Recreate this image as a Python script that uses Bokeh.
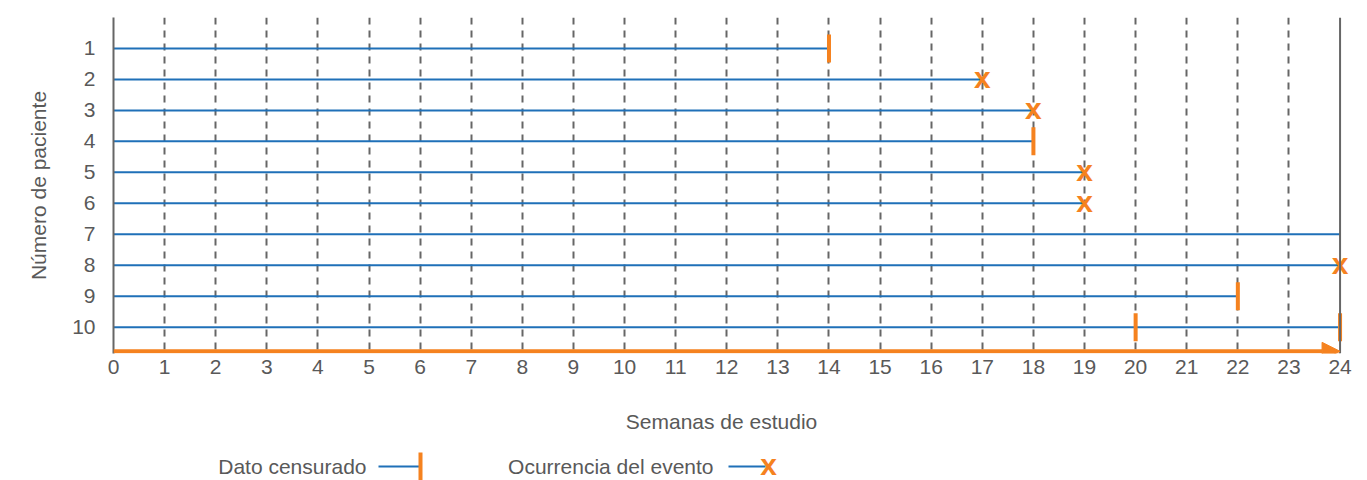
from bokeh.plotting import figure
from bokeh.layouts import column
from bokeh.models import (Range1d, FixedTicker, Span, Arrow, NormalHead, ColumnDataSource)
from bokeh.core.properties import value
from bokeh.embed import file_html
from bokeh.resources import INLINE

# ---- data ----
patients = [1, 2, 3, 4, 5, 6, 7, 8, 9, 10]
end_weeks = [14, 17, 18, 18, 19, 19, 24, 24, 22, 24]
censor_weeks = [14, 18, 22, 20, 24]
censor_patients = [1, 4, 9, 10, 10]
event_weeks = [17, 18, 19, 19, 24]
event_patients = [2, 3, 5, 6, 8]
week_ticks = list(range(0, 25))
patient_ticks = patients
x_title = "Semanas de estudio"
y_title = "Número de paciente"
legend_labels = ["Dato censurado", "Ocurrencia del evento"]

BLUE = "#1F70B8"
ORANGE = "#F5821F"
GRAY = "#595959"
GRID = "#666666"
FONT = "Liberation Sans"

p = figure(width=1360, height=390, output_backend="svg", toolbar_location=None,
           x_range=Range1d(0, 24.4), y_range=Range1d(10.85, 0),
           min_border_left=113, min_border_right=0, min_border_top=17, min_border_bottom=37)
p.outline_line_color = None
p.background_fill_color = "white"

# axes
p.xaxis.ticker = FixedTicker(ticks=week_ticks)
p.yaxis.ticker = FixedTicker(ticks=patient_ticks)
for ax in (p.xaxis[0], p.yaxis[0]):
    ax.major_tick_line_color = None
    ax.minor_tick_line_color = None
    ax.major_label_text_font = FONT
    ax.major_label_text_font_size = "21px"
    ax.major_label_text_color = GRAY
    ax.axis_label_text_font = FONT
    ax.axis_label_text_font_size = "21px"
    ax.axis_label_text_color = GRAY
    ax.axis_label_text_font_style = "normal"
p.xaxis.axis_line_color = None
p.xaxis.major_label_standoff = 0
p.yaxis.axis_line_color = GRID
p.yaxis.axis_line_width = 2
p.yaxis.major_label_standoff = 12
p.yaxis.axis_label = y_title
p.yaxis.axis_label_standoff = 19

# grid
p.ygrid.grid_line_color = None
p.xgrid.ticker = FixedTicker(ticks=list(range(1, 24)))
p.xgrid.grid_line_color = GRID
p.xgrid.grid_line_width = 2
p.xgrid.grid_line_dash = "7 6"

p.add_layout(Span(location=week_ticks[-1], dimension="height", line_color=GRID, line_width=2))

# patient follow-up lines
src = ColumnDataSource(dict(y=patients, start=[0] * len(patients), end=end_weeks))
p.segment(x0="start", y0="y", x1="end", y1="y", source=src, line_color=BLUE, line_width=2)

# censored marks
p.rect(x=censor_weeks, y=censor_patients, width=4, height=28, width_units="screen",
       height_units="screen", fill_color=ORANGE, line_color=None)

# events
p.text(x=event_weeks, y=event_patients, text=["x"] * len(event_weeks), text_font=value(FONT),
       text_font_size="30px", text_font_style="bold", text_color=ORANGE,
       text_align="center", text_baseline="middle", y_offset=-2)

# time arrow
p.add_layout(Arrow(end=NormalHead(size=18, fill_color=ORANGE, line_color=ORANGE),
                   x_start=week_ticks[0], y_start=10.78, x_end=week_ticks[-1], y_end=10.78,
                   line_color=ORANGE, line_width=4))

# ---- x title + legend figure (coordinates in pixels of the page) ----
lg = figure(width=1360, height=90, output_backend="svg", toolbar_location=None,
            x_range=Range1d(113, 1360), y_range=Range1d(480, 390),
            min_border_left=113, min_border_right=0, min_border_top=0, min_border_bottom=0)
lg.axis.visible = False
lg.grid.visible = False
lg.outline_line_color = None
lg.text(x=[721], y=[421], text=[x_title], text_font=value(FONT), text_font_size="21px",
        text_color=GRAY, text_align="center", text_baseline="middle")
lg.text(x=[366, 713], y=[466, 466], text=legend_labels,
        text_font=value(FONT), text_font_size="21px", text_color=GRAY,
        text_align="right", text_baseline="middle")
lg.segment(x0=[378, 728], y0=[466, 466], x1=[419, 765], y1=[466, 466], line_color=BLUE, line_width=2)
lg.rect(x=[420], y=[466], width=4, height=28, fill_color=ORANGE, line_color=None)
lg.text(x=[768], y=[466], text=["x"], text_font=value(FONT), text_font_size="30px",
        text_font_style="bold", text_color=ORANGE, text_align="center", text_baseline="middle",
        y_offset=-2)

layout = column(p, lg, spacing=0)
open("out.html", "w").write(file_html(layout, INLINE))
